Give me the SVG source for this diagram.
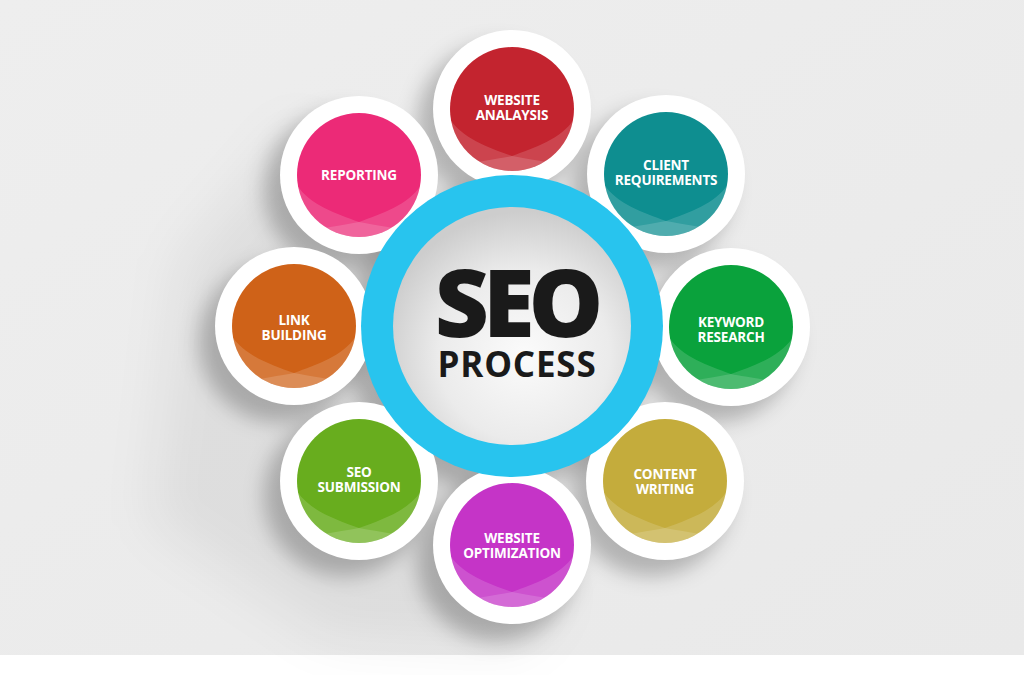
<svg xmlns="http://www.w3.org/2000/svg" width="1024" height="675" viewBox="0 0 1024 675">
  <style>
    .ring { fill: #ffffff; }
    .ov { fill: #ffffff; fill-opacity: 0.15; }
    .lbl { font-family: "Open Sans", "Liberation Sans", sans-serif; font-weight: 700; font-size: 13.5px; fill: #ffffff; text-anchor: middle; letter-spacing: -0.2px; }
    .big { font-family: "Open Sans", "Liberation Sans", sans-serif; fill: #1a1a1a; text-anchor: middle; }
  </style>
  <defs>
    <clipPath id="inner"><circle cx="0" cy="0" r="62"/></clipPath>
    <filter id="blur10" x="-50%" y="-50%" width="200%" height="200%"><feGaussianBlur stdDeviation="10"/></filter>
    <filter id="blur25" x="-50%" y="-50%" width="200%" height="200%"><feGaussianBlur stdDeviation="25"/></filter>
    <radialGradient id="core" cx="0.55" cy="0.62" r="0.6">
      <stop offset="0" stop-color="#fbfbfb"/>
      <stop offset="0.6" stop-color="#ebebeb"/>
      <stop offset="1" stop-color="#cdcdcd"/>
    </radialGradient>
    <linearGradient id="bg" x1="0" y1="0" x2="1" y2="1">
      <stop offset="0" stop-color="#eeeeee"/>
      <stop offset="1" stop-color="#e9e9e9"/>
    </linearGradient>
    <g id="overlay">
      <path class="ov" d="M -66,3 C -55,28 -25,38 0,47 C 25,38 55,28 66,3 L 66,70 L -66,70 Z"/>
      <path class="ov" d="M -66,60 C -40,53 -15,50 0,47 C 15,50 40,53 66,60 L 66,70 L -66,70 Z"/>
    </g>
  </defs>

  <!-- background -->
  <rect x="0" y="0" width="1024" height="655" fill="url(#bg)"/>
  <rect x="0" y="655" width="1024" height="20" fill="#ffffff"/>

  <!-- shadows -->
  <g id="shadows">
    <path d="M 300,120 L 180,260 L 150,520 L 330,640 L 520,650 L 560,600 L 420,300 Z" fill="#000" fill-opacity="0.06" filter="url(#blur25)"/>
    <g fill="#000" fill-opacity="0.24" filter="url(#blur10)">
      <circle cx="497" cy="124" r="80"/>
      <circle cx="651" cy="189" r="80"/>
      <circle cx="716" cy="342" r="80"/>
      <circle cx="651" cy="496" r="80"/>
      <circle cx="497" cy="561" r="80"/>
      <circle cx="344" cy="496" r="80"/>
      <circle cx="279" cy="342" r="80"/>
      <circle cx="344" cy="190" r="80"/>
      <circle cx="498" cy="340" r="152"/>
    </g>
  </g>

  <g id="node-website-analysis" transform="translate(512,109)">
    <circle class="ring" r="79"/>
    <circle r="62" fill="#c3242f"/>
    <g clip-path="url(#inner)"><use href="#overlay"/></g>
    <text class="lbl"><tspan x="0" y="-4">WEBSITE</tspan><tspan x="0" y="11">ANALAYSIS</tspan></text>
  </g>

  <g id="node-client-requirements" transform="translate(666,174)">
    <circle class="ring" r="79"/>
    <circle r="62" fill="#0e8e90"/>
    <g clip-path="url(#inner)"><use href="#overlay"/></g>
    <text class="lbl"><tspan x="0" y="-4">CLIENT</tspan><tspan x="0" y="11">REQUIREMENTS</tspan></text>
  </g>

  <g id="node-keyword-research" transform="translate(731,327)">
    <circle class="ring" r="79"/>
    <circle r="62" fill="#0aa23c"/>
    <g clip-path="url(#inner)"><use href="#overlay"/></g>
    <text class="lbl"><tspan x="0" y="0">KEYWORD</tspan><tspan x="0" y="15">RESEARCH</tspan></text>
  </g>

  <g id="node-content-writing" transform="translate(665,481)">
    <circle class="ring" r="79"/>
    <circle r="62" fill="#c4ac3c"/>
    <g clip-path="url(#inner)"><use href="#overlay"/></g>
    <text class="lbl"><tspan x="0" y="-2">CONTENT</tspan><tspan x="0" y="13">WRITING</tspan></text>
  </g>

  <g id="node-website-optimization" transform="translate(512,545)">
    <circle class="ring" r="79"/>
    <circle r="62" fill="#c534c7"/>
    <g clip-path="url(#inner)"><use href="#overlay"/></g>
    <text class="lbl"><tspan x="0" y="-2">WEBSITE</tspan><tspan x="0" y="13">OPTIMIZATION</tspan></text>
  </g>

  <g id="node-seo-submission" transform="translate(359,481)">
    <circle class="ring" r="79"/>
    <circle r="62" fill="#68ad1e"/>
    <g clip-path="url(#inner)"><use href="#overlay"/></g>
    <text class="lbl"><tspan x="0" y="-4">SEO</tspan><tspan x="0" y="11">SUBMISSION</tspan></text>
  </g>

  <g id="node-link-building" transform="translate(294,326)">
    <circle class="ring" r="79"/>
    <circle r="62" fill="#cf6218"/>
    <g clip-path="url(#inner)"><use href="#overlay"/></g>
    <text class="lbl"><tspan x="0" y="-1">LINK</tspan><tspan x="0" y="14">BUILDING</tspan></text>
  </g>

  <g id="node-reporting" transform="translate(359,175)">
    <circle class="ring" r="79"/>
    <circle r="62" fill="#ec2a77"/>
    <g clip-path="url(#inner)"><use href="#overlay"/></g>
    <text class="lbl" x="0" y="5">REPORTING</text>
  </g>

  <g id="node-seo-process" transform="translate(512,326)">
    <circle r="151" fill="#28c4ee"/>
    <circle r="119" fill="url(#core)"/>
    <text class="big"><tspan x="4" y="11" font-size="94" font-weight="800" letter-spacing="-6">SEO</tspan><tspan x="5" y="51" font-size="35" font-weight="700" letter-spacing="0.8">PROCESS</tspan></text>
  </g>

  <g id="connectors"></g>
</svg>
